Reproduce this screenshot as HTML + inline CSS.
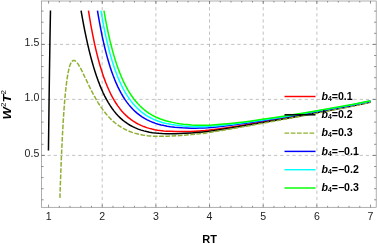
<!DOCTYPE html>
<html><head><meta charset="utf-8"><title>plot</title><style>html,body{margin:0;padding:0;background:#fff}body{width:377px;height:244px;overflow:hidden}</style></head><body>
<svg width="377" height="244" viewBox="0 0 377 244" style="display:block;will-change:transform">
<rect width="377" height="244" fill="#fff"/>
<g stroke="#a8a8a8" stroke-width="0.7" stroke-dasharray="3.2 2.92" fill="none"><line x1="102.2" y1="1.0" x2="102.2" y2="207.3"/><line x1="155.9" y1="1.0" x2="155.9" y2="207.3"/><line x1="209.5" y1="1.0" x2="209.5" y2="207.3"/><line x1="263.2" y1="1.0" x2="263.2" y2="207.3"/><line x1="316.9" y1="1.0" x2="316.9" y2="207.3"/><line x1="41.5" y1="44.4" x2="376.2" y2="44.4"/><line x1="41.5" y1="99.4" x2="376.2" y2="99.4"/><line x1="41.5" y1="155.4" x2="376.2" y2="155.4"/></g>
<path d="M88.45 10.60 L89.59 17.66 L90.77 24.51 L91.95 30.94 L93.18 37.23 L94.42 43.11 L95.70 48.86 L97.05 54.44 L98.39 59.64 L99.78 64.68 L101.23 69.54 L102.68 74.05 L104.18 78.38 L105.74 82.54 L107.35 86.51 L109.01 90.29 L110.67 93.78 L112.39 97.08 L114.21 100.30 L116.04 103.24 L117.97 106.08 L119.90 108.67 L121.94 111.15 L124.03 113.45 L126.23 115.63 L128.48 117.63 L130.79 119.46 L133.21 121.16 L135.73 122.73 L138.30 124.14 L140.99 125.42 L143.78 126.57 L146.73 127.61 L149.30 128.38 L151.93 129.05 L154.72 129.65 L157.56 130.16 L160.51 130.58 L163.63 130.92 L166.84 131.18 L170.22 131.35 L175.54 131.52 L180.42 131.58 L184.44 131.55 L190.56 131.39 L195.12 131.21 L199.20 130.97 L204.99 130.52 L209.28 130.09 L216.04 129.24 L223.45 128.22 L231.44 127.03 L240.08 125.69 L255.69 123.11 L292.65 116.76 L308.53 113.88 L350.86 106.00 L355.69 105.00 L366.21 102.66 L370.50 101.79" fill="none" stroke="#ff0000" stroke-width="1.5" stroke-linejoin="round"/>
<path d="M48.46 150.57 L48.98 107.87 L49.46 72.55 L49.94 41.27 L50.48 10.60M81.06 10.60 L82.35 17.93 L83.63 24.86 L84.97 31.68 L86.32 38.12 L87.71 44.42 L89.11 50.33 L90.50 55.89 L91.95 61.30 L93.40 66.35 L94.90 71.25 L96.46 75.98 L98.01 80.37 L99.62 84.60 L101.28 88.64 L103.00 92.49 L104.72 96.05 L106.49 99.42 L108.31 102.62 L110.19 105.63 L112.12 108.46 L114.11 111.11 L116.20 113.65 L118.29 115.94 L120.49 118.11 L122.74 120.11 L125.10 121.98 L127.52 123.67 L130.04 125.24 L132.67 126.67 L135.35 127.93 L138.20 129.09 L141.15 130.11 L143.83 130.89 L146.62 131.57 L149.52 132.16 L152.52 132.65 L155.63 133.05 L158.90 133.36 L162.28 133.57 L165.83 133.69 L169.53 133.72 L175.64 133.65 L180.47 133.53 L184.82 133.34 L191.74 132.96 L196.89 132.59 L203.06 132.02 L207.83 131.50 L213.52 130.72 L221.35 129.55 L238.20 126.83 L253.11 124.25 L294.26 116.96 L307.46 114.51 L350.97 106.28 L355.69 105.30 L366.15 102.95 L370.50 102.06" fill="none" stroke="#000000" stroke-width="1.5" stroke-linejoin="round"/>
<path d="M59.91 197.86 L60.51 180.08 L61.10 164.51 L61.74 149.45 L62.39 136.18 L63.09 123.63 L63.78 112.74 L64.53 102.68 L65.34 93.58 L66.14 86.00 L67.00 79.36 L67.91 73.72 L68.83 69.32 L69.31 67.44 L69.79 65.83 L70.33 64.34 L70.86 63.12 L71.40 62.17 L71.99 61.38 L72.58 60.85 L73.23 60.52 L73.82 60.44 L74.41 60.53 L75.00 60.78 L75.64 61.22 L76.34 61.86 L77.03 62.65 L77.79 63.65 L78.54 64.77 L80.15 67.52 L82.02 71.13 L88.78 85.28 L91.68 91.13 L94.15 95.82 L96.56 100.11 L98.17 102.79 L99.73 105.25 L101.34 107.65 L102.95 109.91 L104.56 112.03 L106.22 114.09 L107.88 116.01 L109.55 117.80 L111.37 119.63 L113.25 121.36 L115.18 123.00 L117.11 124.50 L119.10 125.90 L121.13 127.21 L123.23 128.43 L125.37 129.55 L127.57 130.58 L129.83 131.51 L132.19 132.37 L134.60 133.14 L137.12 133.83 L139.70 134.43 L142.38 134.95 L145.12 135.38 L147.64 135.69 L150.27 135.95 L152.95 136.14 L155.74 136.27 L158.64 136.34 L161.59 136.35 L167.92 136.19 L180.31 135.49 L191.15 134.61 L199.14 133.83 L204.88 133.14 L208.75 132.62 L221.73 130.53 L237.45 127.80 L296.95 116.94 L351.13 106.56 L355.75 105.59 L366.10 103.24 L370.50 102.33" fill="none" stroke="#8fb032" stroke-width="1.5" stroke-linejoin="round" stroke-dasharray="4.7 1.55"/>
<path d="M97.47 10.60 L98.60 17.40 L99.73 23.73 L100.91 29.95 L102.14 36.03 L103.38 41.71 L104.66 47.25 L105.95 52.41 L107.29 57.43 L108.69 62.28 L110.08 66.79 L111.53 71.14 L113.03 75.33 L114.59 79.34 L116.20 83.17 L117.86 86.82 L119.53 90.19 L121.24 93.38 L123.07 96.50 L124.89 99.35 L126.82 102.11 L128.75 104.62 L130.79 107.04 L132.88 109.28 L135.08 111.42 L137.34 113.38 L139.64 115.19 L142.06 116.87 L144.58 118.44 L147.21 119.88 L149.89 121.16 L152.68 122.32 L155.58 123.37 L158.31 124.21 L161.10 124.95 L164.05 125.60 L167.11 126.17 L170.44 126.66 L174.68 127.17 L178.59 127.54 L182.40 127.82 L186.59 128.01 L191.36 128.14 L195.39 128.17 L199.14 128.12 L203.92 127.96 L207.73 127.75 L211.27 127.46 L216.47 126.96 L223.07 126.24 L230.10 125.38 L237.66 124.37 L245.76 123.22 L260.57 120.96 L292.55 115.81 L311.27 112.54 L350.65 105.42 L354.83 104.58 L365.56 102.24 L370.50 101.24" fill="none" stroke="#0000ff" stroke-width="1.5" stroke-linejoin="round"/>
<path d="M100.89 10.60 L102.04 17.24 L103.16 23.39 L104.34 29.44 L105.58 35.35 L106.81 40.88 L108.10 46.28 L109.44 51.51 L110.78 56.40 L112.18 61.12 L113.57 65.52 L115.07 69.93 L116.57 74.01 L118.13 77.92 L119.74 81.67 L121.40 85.24 L123.12 88.64 L124.84 91.76 L126.66 94.82 L128.54 97.69 L130.47 100.40 L132.45 102.94 L134.49 105.31 L136.59 107.52 L138.79 109.62 L141.04 111.56 L143.40 113.38 L145.81 115.05 L148.34 116.60 L150.96 118.03 L153.65 119.32 L156.44 120.48 L159.33 121.53 L162.18 122.41 L165.07 123.18 L168.08 123.86 L171.30 124.46 L175.21 125.08 L179.13 125.59 L182.89 125.98 L186.86 126.27 L191.42 126.53 L195.60 126.66 L199.25 126.70 L203.92 126.63 L207.14 126.53 L209.98 126.36 L215.08 125.97 L220.44 125.48 L226.88 124.81 L233.69 124.02 L240.99 123.09 L248.77 122.03 L262.88 119.94 L282.67 116.89 L293.24 115.21 L312.83 111.85 L350.60 105.12 L354.89 104.27 L365.56 101.96 L370.50 100.97" fill="none" stroke="#00ffff" stroke-width="1.5" stroke-linejoin="round"/>
<path d="M103.93 10.60 L105.09 17.16 L106.27 23.40 L107.45 29.25 L108.69 34.97 L109.98 40.56 L111.26 45.78 L112.60 50.86 L113.95 55.59 L115.34 60.19 L116.79 64.63 L118.29 68.90 L119.79 72.87 L121.35 76.69 L122.96 80.34 L124.62 83.83 L126.34 87.15 L128.11 90.31 L129.88 93.21 L131.76 96.04 L133.69 98.70 L135.67 101.20 L137.71 103.55 L139.86 105.79 L142.06 107.87 L144.31 109.79 L146.67 111.60 L149.14 113.30 L151.66 114.85 L154.29 116.28 L156.97 117.56 L159.76 118.73 L162.71 119.81 L165.66 120.73 L168.78 121.56 L172.42 122.38 L176.23 123.12 L179.77 123.70 L183.32 124.17 L187.39 124.58 L191.52 124.92 L195.23 125.14 L198.77 125.26 L203.27 125.31 L207.03 125.26 L209.93 125.15 L214.65 124.87 L224.04 124.12 L230.26 123.50 L236.91 122.76 L243.99 121.90 L251.50 120.91 L260.73 119.61 L275.32 117.46 L294.00 114.61 L302.36 113.23 L314.17 111.21 L350.54 104.82 L354.89 103.97 L365.62 101.67 L370.50 100.70" fill="none" stroke="#00ff00" stroke-width="1.5" stroke-linejoin="round"/>
<rect x="41.5" y="1.0" width="334.7" height="206.3" fill="none" stroke="#8c8c8c" stroke-width="0.7"/>
<g stroke="#4a4a4a" stroke-width="0.6"><line x1="48.60" y1="207.3" x2="48.60" y2="204.6"/><line x1="48.60" y1="1.0" x2="48.60" y2="3.7"/><line x1="59.33" y1="207.3" x2="59.33" y2="205.8"/><line x1="59.33" y1="1.0" x2="59.33" y2="2.5"/><line x1="70.06" y1="207.3" x2="70.06" y2="205.8"/><line x1="70.06" y1="1.0" x2="70.06" y2="2.5"/><line x1="80.79" y1="207.3" x2="80.79" y2="205.8"/><line x1="80.79" y1="1.0" x2="80.79" y2="2.5"/><line x1="91.52" y1="207.3" x2="91.52" y2="205.8"/><line x1="91.52" y1="1.0" x2="91.52" y2="2.5"/><line x1="102.25" y1="207.3" x2="102.25" y2="204.6"/><line x1="102.25" y1="1.0" x2="102.25" y2="3.7"/><line x1="112.98" y1="207.3" x2="112.98" y2="205.8"/><line x1="112.98" y1="1.0" x2="112.98" y2="2.5"/><line x1="123.71" y1="207.3" x2="123.71" y2="205.8"/><line x1="123.71" y1="1.0" x2="123.71" y2="2.5"/><line x1="134.44" y1="207.3" x2="134.44" y2="205.8"/><line x1="134.44" y1="1.0" x2="134.44" y2="2.5"/><line x1="145.17" y1="207.3" x2="145.17" y2="205.8"/><line x1="145.17" y1="1.0" x2="145.17" y2="2.5"/><line x1="155.90" y1="207.3" x2="155.90" y2="204.6"/><line x1="155.90" y1="1.0" x2="155.90" y2="3.7"/><line x1="166.63" y1="207.3" x2="166.63" y2="205.8"/><line x1="166.63" y1="1.0" x2="166.63" y2="2.5"/><line x1="177.36" y1="207.3" x2="177.36" y2="205.8"/><line x1="177.36" y1="1.0" x2="177.36" y2="2.5"/><line x1="188.09" y1="207.3" x2="188.09" y2="205.8"/><line x1="188.09" y1="1.0" x2="188.09" y2="2.5"/><line x1="198.82" y1="207.3" x2="198.82" y2="205.8"/><line x1="198.82" y1="1.0" x2="198.82" y2="2.5"/><line x1="209.55" y1="207.3" x2="209.55" y2="204.6"/><line x1="209.55" y1="1.0" x2="209.55" y2="3.7"/><line x1="220.28" y1="207.3" x2="220.28" y2="205.8"/><line x1="220.28" y1="1.0" x2="220.28" y2="2.5"/><line x1="231.01" y1="207.3" x2="231.01" y2="205.8"/><line x1="231.01" y1="1.0" x2="231.01" y2="2.5"/><line x1="241.74" y1="207.3" x2="241.74" y2="205.8"/><line x1="241.74" y1="1.0" x2="241.74" y2="2.5"/><line x1="252.47" y1="207.3" x2="252.47" y2="205.8"/><line x1="252.47" y1="1.0" x2="252.47" y2="2.5"/><line x1="263.20" y1="207.3" x2="263.20" y2="204.6"/><line x1="263.20" y1="1.0" x2="263.20" y2="3.7"/><line x1="273.93" y1="207.3" x2="273.93" y2="205.8"/><line x1="273.93" y1="1.0" x2="273.93" y2="2.5"/><line x1="284.66" y1="207.3" x2="284.66" y2="205.8"/><line x1="284.66" y1="1.0" x2="284.66" y2="2.5"/><line x1="295.39" y1="207.3" x2="295.39" y2="205.8"/><line x1="295.39" y1="1.0" x2="295.39" y2="2.5"/><line x1="306.12" y1="207.3" x2="306.12" y2="205.8"/><line x1="306.12" y1="1.0" x2="306.12" y2="2.5"/><line x1="316.85" y1="207.3" x2="316.85" y2="204.6"/><line x1="316.85" y1="1.0" x2="316.85" y2="3.7"/><line x1="327.58" y1="207.3" x2="327.58" y2="205.8"/><line x1="327.58" y1="1.0" x2="327.58" y2="2.5"/><line x1="338.31" y1="207.3" x2="338.31" y2="205.8"/><line x1="338.31" y1="1.0" x2="338.31" y2="2.5"/><line x1="349.04" y1="207.3" x2="349.04" y2="205.8"/><line x1="349.04" y1="1.0" x2="349.04" y2="2.5"/><line x1="359.77" y1="207.3" x2="359.77" y2="205.8"/><line x1="359.77" y1="1.0" x2="359.77" y2="2.5"/><line x1="370.50" y1="207.3" x2="370.50" y2="204.6"/><line x1="370.50" y1="1.0" x2="370.50" y2="3.7"/><line x1="41.5" y1="199.80" x2="43.6" y2="199.80"/><line x1="376.2" y1="199.80" x2="374.1" y2="199.80"/><line x1="41.5" y1="188.70" x2="43.6" y2="188.70"/><line x1="376.2" y1="188.70" x2="374.1" y2="188.70"/><line x1="41.5" y1="177.60" x2="43.6" y2="177.60"/><line x1="376.2" y1="177.60" x2="374.1" y2="177.60"/><line x1="41.5" y1="166.50" x2="43.6" y2="166.50"/><line x1="376.2" y1="166.50" x2="374.1" y2="166.50"/><line x1="41.5" y1="155.40" x2="44.8" y2="155.40"/><line x1="376.2" y1="155.40" x2="372.9" y2="155.40"/><line x1="41.5" y1="144.30" x2="43.6" y2="144.30"/><line x1="376.2" y1="144.30" x2="374.1" y2="144.30"/><line x1="41.5" y1="133.20" x2="43.6" y2="133.20"/><line x1="376.2" y1="133.20" x2="374.1" y2="133.20"/><line x1="41.5" y1="122.10" x2="43.6" y2="122.10"/><line x1="376.2" y1="122.10" x2="374.1" y2="122.10"/><line x1="41.5" y1="111.00" x2="43.6" y2="111.00"/><line x1="376.2" y1="111.00" x2="374.1" y2="111.00"/><line x1="41.5" y1="99.40" x2="44.8" y2="99.40"/><line x1="376.2" y1="99.40" x2="372.9" y2="99.40"/><line x1="41.5" y1="88.80" x2="43.6" y2="88.80"/><line x1="376.2" y1="88.80" x2="374.1" y2="88.80"/><line x1="41.5" y1="77.70" x2="43.6" y2="77.70"/><line x1="376.2" y1="77.70" x2="374.1" y2="77.70"/><line x1="41.5" y1="66.60" x2="43.6" y2="66.60"/><line x1="376.2" y1="66.60" x2="374.1" y2="66.60"/><line x1="41.5" y1="55.50" x2="43.6" y2="55.50"/><line x1="376.2" y1="55.50" x2="374.1" y2="55.50"/><line x1="41.5" y1="44.40" x2="44.8" y2="44.40"/><line x1="376.2" y1="44.40" x2="372.9" y2="44.40"/><line x1="41.5" y1="33.30" x2="43.6" y2="33.30"/><line x1="376.2" y1="33.30" x2="374.1" y2="33.30"/><line x1="41.5" y1="22.20" x2="43.6" y2="22.20"/><line x1="376.2" y1="22.20" x2="374.1" y2="22.20"/><line x1="41.5" y1="11.10" x2="43.6" y2="11.10"/><line x1="376.2" y1="11.10" x2="374.1" y2="11.10"/></g>
<g font-family="'Liberation Sans', sans-serif" font-size="10" fill="#222">
<text transform="translate(48.6 219.9) scale(1.06 1)" text-anchor="middle">1</text>
<text transform="translate(102.2 219.9) scale(1.06 1)" text-anchor="middle">2</text>
<text transform="translate(155.9 219.9) scale(1.06 1)" text-anchor="middle">3</text>
<text transform="translate(209.5 219.9) scale(1.06 1)" text-anchor="middle">4</text>
<text transform="translate(263.2 219.9) scale(1.06 1)" text-anchor="middle">5</text>
<text transform="translate(316.9 219.9) scale(1.06 1)" text-anchor="middle">6</text>
<text transform="translate(370.5 219.9) scale(1.06 1)" text-anchor="middle">7</text>
<text transform="translate(39.3 46.0) scale(1.06 1)" text-anchor="end">1.5</text>
<text transform="translate(39.3 101.0) scale(1.06 1)" text-anchor="end">1.0</text>
<text transform="translate(39.3 157.0) scale(1.06 1)" text-anchor="end">0.5</text>
</g>
<text x="209.6" y="243.1" text-anchor="middle" font-family="'Liberation Sans', sans-serif" font-weight="bold" font-size="11" fill="#000">RT</text>
<text transform="translate(10.7 119.4) rotate(-90) scale(1.17 1)" font-family="'Liberation Sans', sans-serif" font-size="11.2" fill="#000"><tspan font-weight="bold" font-style="italic">W</tspan><tspan font-size="6.8" dy="-5">2</tspan><tspan font-weight="bold" font-style="italic" dy="5">T</tspan><tspan font-size="6.8" dy="-5">2</tspan></text>
<line x1="284.5" y1="96.5" x2="315.5" y2="96.5" stroke="#ff0000" stroke-width="1.45"/>
<text transform="translate(321.4 99.8) scale(1.02 1)" font-family="'Liberation Sans', sans-serif" font-weight="bold" font-size="10.4" fill="#000"><tspan font-style="italic">b</tspan><tspan font-size="6.7" dy="1.05">4</tspan><tspan dy="-1.05">=0.1</tspan></text>
<line x1="284.5" y1="114.8" x2="315.5" y2="114.8" stroke="#000000" stroke-width="1.45"/>
<text transform="translate(321.4 118.1) scale(1.02 1)" font-family="'Liberation Sans', sans-serif" font-weight="bold" font-size="10.4" fill="#000"><tspan font-style="italic">b</tspan><tspan font-size="6.7" dy="1.05">4</tspan><tspan dy="-1.05">=0.2</tspan></text>
<line x1="284.5" y1="133.1" x2="315.5" y2="133.1" stroke="#8fb032" stroke-width="1.45" stroke-dasharray="4.7 1.55"/>
<text transform="translate(321.4 136.4) scale(1.02 1)" font-family="'Liberation Sans', sans-serif" font-weight="bold" font-size="10.4" fill="#000"><tspan font-style="italic">b</tspan><tspan font-size="6.7" dy="1.05">4</tspan><tspan dy="-1.05">=0.3</tspan></text>
<line x1="284.5" y1="151.4" x2="315.5" y2="151.4" stroke="#0000ff" stroke-width="1.45"/>
<text transform="translate(321.4 154.7) scale(1.02 1)" font-family="'Liberation Sans', sans-serif" font-weight="bold" font-size="10.4" fill="#000"><tspan font-style="italic">b</tspan><tspan font-size="6.7" dy="1.05">4</tspan><tspan dy="-1.05">=−0.1</tspan></text>
<line x1="284.5" y1="169.7" x2="315.5" y2="169.7" stroke="#00ffff" stroke-width="1.45"/>
<text transform="translate(321.4 173.0) scale(1.02 1)" font-family="'Liberation Sans', sans-serif" font-weight="bold" font-size="10.4" fill="#000"><tspan font-style="italic">b</tspan><tspan font-size="6.7" dy="1.05">4</tspan><tspan dy="-1.05">=−0.2</tspan></text>
<line x1="284.5" y1="188.0" x2="315.5" y2="188.0" stroke="#00ff00" stroke-width="1.45"/>
<text transform="translate(321.4 191.3) scale(1.02 1)" font-family="'Liberation Sans', sans-serif" font-weight="bold" font-size="10.4" fill="#000"><tspan font-style="italic">b</tspan><tspan font-size="6.7" dy="1.05">4</tspan><tspan dy="-1.05">=−0.3</tspan></text>
</svg>
</body></html>
